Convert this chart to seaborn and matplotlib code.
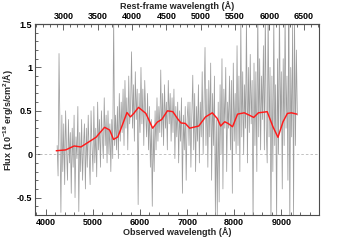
import numpy as np
import pandas as pd
import matplotlib
matplotlib.use("Agg")
import matplotlib.pyplot as plt
from matplotlib.ticker import MultipleLocator, FormatStrFormatter
import seaborn as sns

# ---------------- data ----------------
one_plus_z = 1.458

# observed spectrum (gray), sampled every 20 A from 4240 to 9340 A
spec_start, spec_end = 4240, 9340
spec_flux = [
    0.10, -0.25, 1.16, 0.30, -0.67, 0.45, -0.20, 0.35, -0.35, 0.50, 0.05, -0.30, 0.40, -0.10, 0.25, -0.45,
    0.30, -0.15, 0.45, -0.50, 0.20, -0.05, 0.55, -0.66, 0.25, -0.20, 0.40, -0.30, 0.10, 0.35, -0.40, 0.30,
    -0.15, 0.45, 0.00, -0.35, 0.50, 0.10, -0.20, 0.55, -0.10, 0.30, -0.26, 0.60, 0.05, 0.40, -0.15, 0.50,
    0.20, -0.05, 0.65, 0.10, 0.45, -0.10, 0.50, 0.00, 0.35, -0.20, 0.40, -0.05, 1.60, 0.10, 0.45, 0.05,
    0.55, -0.05, 0.70, 0.15, 0.60, 0.25, 0.75, 0.10, 0.85, 0.30, 0.65, 0.05, 0.90, 0.35, 0.55, 1.18,
    0.30, 0.80, 0.15, 0.95, 0.40, 0.75, -0.58, 0.70, 0.25, 1.00, 0.35, 0.75, 0.10, 0.85, 0.45, 0.20,
    0.70, 0.05, 0.55, -0.15, 0.40, -0.60, 0.30, -0.20, 0.50, 0.05, 0.65, 0.15, 0.55, 0.25, 0.97, 0.20,
    0.70, 0.10, 0.80, 0.30, 0.60, 0.05, 0.85, 0.35, 0.70, 0.15, 0.65, 0.25, 0.75, -0.05, 0.55, 0.20,
    0.60, -0.10, 0.50, 0.15, 0.65, -0.45, 0.45, 0.05, 0.55, -0.30, 0.40, 0.60, 0.10, 0.60, -0.15, 0.45,
    0.91, 0.05, 0.70, -0.20, 0.55, 0.15, 0.80, -0.10, 0.60, 0.20, 0.95, 0.00, 0.65, 1.23, 0.10, 0.75,
    -0.15, 0.85, 0.20, 1.05, -0.30, 0.70, 0.10, 0.90, -0.70, 0.40, -0.70, 0.60, -0.55, 0.80, 0.00, 1.10,
    -0.40, 0.75, 0.30, 1.00, -0.20, 0.60, 0.30, 0.90, 0.05, 0.85, -0.45, 1.05, 0.15, 0.70, 0.00, 1.25,
    0.10, 0.90, -0.20, 1.55, 0.20, 0.95, 0.00, 0.80, 0.30, 1.60, -0.10, 1.00, 0.25, 1.15, 0.35, 0.85,
    -0.80, 1.05, 0.10, 0.95, -0.20, 1.70, 0.20, 1.10, 0.05, 0.90, 0.40, 1.25, 0.05, 1.65, 0.30, -0.10,
    1.70, 0.20, 1.00, -0.85, 0.90, -0.20, 1.60, 0.10, 0.80, -0.80, 1.10, 0.00, 1.75, 0.30, 0.95, -0.40,
    1.10, 0.10, 1.65, 0.30, 0.90, -0.30, 1.80, -0.85, 1.00, 0.20, 1.50, -0.70, 1.60, 0.10, 1.20, 0.45,
]
spec_wave = np.linspace(spec_start, spec_end, len(spec_flux))

# smoothed spectrum (red)
smooth_wave = [4221, 4422, 4601, 4745, 4887, 5066, 5247, 5354, 5438, 5530, 5637, 5723,
               5796, 5867, 5968, 6124, 6268, 6367, 6461, 6582, 6697, 6796, 6870, 6961,
               7054, 7247, 7391, 7534, 7642, 7712, 7798, 7869, 7964, 8071, 8213, 8320,
               8414, 8513, 8700, 8822, 8929, 9036, 9129, 9215, 9330]
smooth_flux = [0.04, 0.05, 0.095, 0.084, 0.133, 0.195, 0.31, 0.279, 0.17, 0.20, 0.355, 0.48,
               0.43, 0.47, 0.54, 0.47, 0.30, 0.37, 0.40, 0.50, 0.49, 0.41, 0.36, 0.355,
               0.30, 0.325, 0.43, 0.477, 0.41, 0.325, 0.374, 0.355, 0.317, 0.462, 0.477, 0.45,
               0.424, 0.477, 0.49, 0.317, 0.195, 0.374, 0.47, 0.477, 0.462]

bottom_ticks = [4000, 5000, 6000, 7000, 8000, 9000]
top_ticks = [3000, 3500, 4000, 4500, 5000, 5500, 6000, 6500]
y_ticks = [-0.5, 0, 0.5, 1, 1.5]

# ---------------- style ----------------
sns.set_style("ticks")
plt.rcParams["font.family"] = ["Liberation Sans", "DejaVu Sans"]
plt.rcParams["font.weight"] = "bold"
plt.rcParams["axes.unicode_minus"] = False
plt.rcParams["mathtext.default"] = "regular"
fs = 6.5
axcol = "0.3"

fig = plt.figure(figsize=(3.55, 2.4), dpi=100)
ax = fig.add_axes([35 / 355, 1 - 215 / 240, (319 - 35) / 355, (215 - 24) / 240])

spec_df = pd.DataFrame({"wave": spec_wave, "flux": spec_flux})
smooth_df = pd.DataFrame({"wave": smooth_wave, "flux": smooth_flux})

ax.axhline(0, color="0.72", lw=0.6, ls=(0, (3, 2.5)), zorder=1)
sns.lineplot(data=spec_df, x="wave", y="flux", ax=ax, color="0.62", lw=0.55,
             estimator=None, sort=False, zorder=2)
sns.lineplot(data=smooth_df, x="wave", y="flux", ax=ax, color="#ff1a1a", lw=1.05,
             estimator=None, sort=False, zorder=3)

ax.set_xlim(3770, 9800)
ax.set_ylim(-0.7, 1.5)

ax.set_xticks(bottom_ticks)
ax.xaxis.set_minor_locator(MultipleLocator(200))
ax.set_yticks(y_ticks)
ax.yaxis.set_minor_locator(MultipleLocator(0.1))
ax.yaxis.set_major_formatter(FormatStrFormatter("%g"))

ax.tick_params(axis="both", which="both", direction="in", colors=axcol,
               labelcolor="black", labelsize=fs, width=0.6, pad=2)
ax.tick_params(which="major", length=4)
ax.tick_params(which="minor", length=2)
ax.tick_params(axis="x", top=False, right=False)
ax.tick_params(axis="y", right=False)

for s in ax.spines.values():
    s.set_color(axcol)
    s.set_linewidth(0.8)

ax.set_xlabel("Observed wavelength (Å)", fontsize=fs, fontweight="bold", labelpad=0.5)
ax.set_ylabel("Flux (10$^{-18}$ erg/s/cm$^2$/Å)", fontsize=fs, fontweight="bold", labelpad=1)

sec = ax.secondary_xaxis("top", functions=(lambda x: x / one_plus_z, lambda x: x * one_plus_z))
sec.set_xticks(top_ticks)
sec.xaxis.set_minor_locator(MultipleLocator(100))
sec.tick_params(axis="x", which="both", direction="in", colors=axcol,
                labelcolor="black", labelsize=fs, width=0.6, pad=2)
sec.tick_params(which="major", length=4)
sec.tick_params(which="minor", length=2)
sec.spines["top"].set_color(axcol)
sec.spines["top"].set_linewidth(0.8)
sec.set_xlabel("Rest-frame wavelength (Å)", fontsize=fs, fontweight="bold", labelpad=2)

fig.savefig("out.png", dpi=100)
